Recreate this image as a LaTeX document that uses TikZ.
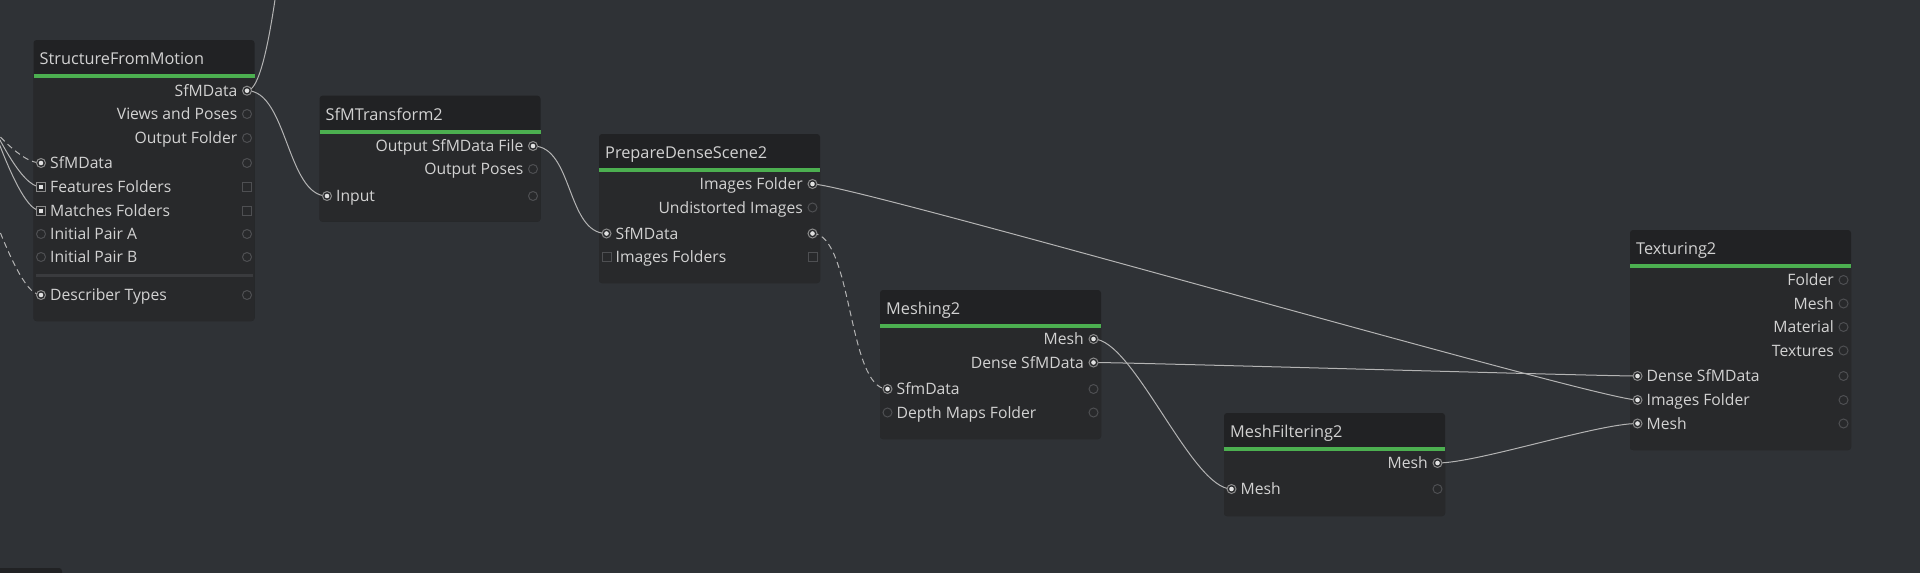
\documentclass[tikz,border=0pt]{standalone}
\usepackage{fontspec}
\setmainfont{Open Sans}
\definecolor{bgc}{HTML}{2F3236}
\definecolor{headc}{HTML}{212224}
\definecolor{bodyc}{HTML}{28292B}
\definecolor{greenc}{HTML}{4CAF50}
\definecolor{txtc}{HTML}{D2D2D2}
\definecolor{edgec}{HTML}{B4B4B4}
\definecolor{ringc}{HTML}{4E4F52}
\definecolor{ringon}{HTML}{8C8C8C}
\definecolor{dotc}{HTML}{E0E0E0}
\definecolor{sepc}{HTML}{3A3B3E}
\newcommand\lblfont{\fontsize{15.7}{18}\selectfont}
\newcommand\ttlfont{\fontsize{16.3}{19}\selectfont}
\tikzset{
  lbl/.style={text=txtc, font=\lblfont, inner sep=0pt},
  ttl/.style={text=txtc, font=\ttlfont, inner sep=0pt},
  edge/.style={draw=edgec, line width=1pt},
  dashededge/.style={edge, dash pattern=on 6pt off 4pt},
  pe/.style={circle, draw=ringc, line width=1pt, fill=bodyc, minimum size=9pt, inner sep=0pt},
  pf/.style={pe, draw=ringon, path picture={\fill[dotc] (path picture bounding box.center) circle (2.3pt);}},
  se/.style={rectangle, draw=ringc, line width=1pt, fill=bodyc, minimum size=9pt, inner sep=0pt},
  sf/.style={se, draw=ringon, path picture={\fill[dotc] ([shift={(-2.2pt,-2.2pt)}]path picture bounding box.center) rectangle ++(4.4pt,4.4pt);}},
}
\newcommand\mrnode[5]{% name, L, T, H, title
  \fill[headc, rounded corners=3pt] (#2,#3) rectangle ++(221,#4);
  \fill[bodyc] (#2,#3+36) [rounded corners=3pt] -- (#2,#3+#4) -- (#2+221,#3+#4) [sharp corners] -- (#2+221,#3+36) -- cycle;
  \fill[greenc] (#2,#3+34) rectangle ++(221,4);
  \node[ttl, anchor=base west] (#1) at (#2+6,#3+24.5) {#5};
}
\newcommand\outrow[4]{% coord, L, y, label
  \coordinate (#1) at (#2+213.5,#3);
  \node[lbl, anchor=base east] (#1-t) at (#2+204,#3+5.6) {#4};
}
\newcommand\inrow[4]{% coord, L, y, label
  \coordinate (#1) at (#2+7.5,#3);
  \coordinate (#1-r) at (#2+213.5,#3);
  \node[lbl, anchor=base west] (#1-t) at (#2+16.5,#3+5.6) {#4};
}
\begin{document}
\begin{tikzpicture}[x=1pt,y=-1pt]
\useasboundingbox (0,0) rectangle (1920,573);
\clip (0,0) rectangle (1920,573);
\fill[bgc] (0,0) rectangle (1920,573);
% partial node at bottom left
\fill[headc, rounded corners=3pt] (-60,568) rectangle (62,640);
% StructureFromMotion
\mrnode{sfm}{33.5}{40}{281}{StructureFromMotion}
\outrow{sfm-o1}{33.5}{90.7}{SfMData}
\outrow{sfm-o2}{33.5}{114}{Views and Poses}
\outrow{sfm-o3}{33.5}{138}{Output Folder}
\inrow{sfm-i1}{33.5}{163}{SfMData}
\inrow{sfm-i2}{33.5}{187}{Features Folders}
\inrow{sfm-i3}{33.5}{211}{Matches Folders}
\inrow{sfm-i4}{33.5}{234}{Initial Pair A}
\inrow{sfm-i5}{33.5}{257}{Initial Pair B}
\fill[sepc] (35.5,273.5) rectangle (252.5,276.5);
\inrow{sfm-i6}{33.5}{295}{Describer Types}
% SfMTransform2
\mrnode{st}{319.5}{95.7}{126}{SfMTransform2}
\outrow{st-o1}{319.5}{146}{Output SfMData File}
\outrow{st-o2}{319.5}{169}{Output Poses}
\inrow{st-i1}{319.5}{196}{Input}
% PrepareDenseScene2
\mrnode{pd}{599}{134}{149}{PrepareDenseScene2}
\outrow{pd-o1}{599}{184}{Images Folder}
\outrow{pd-o2}{599}{207.5}{Undistorted Images}
\inrow{pd-i1}{599}{233.5}{SfMData}
\inrow{pd-i2}{599}{257}{Images Folders}
% Meshing2
\mrnode{me}{880}{290}{149}{Meshing2}
\outrow{me-o1}{880}{339}{Mesh}
\outrow{me-o2}{880}{362.5}{Dense SfMData}
\inrow{me-i1}{880}{389}{SfmData}
\inrow{me-i2}{880}{412.5}{Depth Maps Folder}
% MeshFiltering2
\mrnode{mf}{1224}{413}{103}{MeshFiltering2}
\outrow{mf-o1}{1224}{463}{Mesh}
\inrow{mf-i1}{1224}{489}{Mesh}
% Texturing2
\mrnode{tx}{1630}{230}{220}{Texturing2}
\outrow{tx-o1}{1630}{280}{Folder}
\outrow{tx-o2}{1630}{303.5}{Mesh}
\outrow{tx-o3}{1630}{327}{Material}
\outrow{tx-o4}{1630}{350.5}{Textures}
\inrow{tx-i1}{1630}{376}{Dense SfMData}
\inrow{tx-i2}{1630}{400}{Images Folder}
\inrow{tx-i3}{1630}{423.5}{Mesh}
% off-screen ends
\coordinate (offTop) at (340,-400);
\coordinate (offA) at (-100,43);
\coordinate (offB) at (-100,-26);
\coordinate (offC) at (-100,-85);
\coordinate (offD) at (-100,8);
% edges
\draw[edge] (sfm-o1) .. controls +(40,0) and +(-40,0) .. (offTop);
\draw[edge] (sfm-o1) .. controls +(40,0) and +(-40,0) .. (st-i1);
\draw[edge] (st-o1) .. controls +(40,0) and +(-40,0) .. (pd-i1);
\draw[dashededge] (pd-i1-r) .. controls +(40,0) and +(-40,0) .. (me-i1);
\draw[edge] (pd-o1) .. controls +(40,0) and +(-40,0) .. (tx-i2);
\draw[edge] (me-o1) .. controls +(40,0) and +(-40,0) .. (mf-i1);
\draw[edge] (me-o2) .. controls +(40,0) and +(-40,0) .. (tx-i1);
\draw[edge] (mf-o1) .. controls +(40,0) and +(-40,0) .. (tx-i3);
\draw[dashededge] (offA) .. controls +(40,0) and +(-40,0) .. (sfm-i1);
\draw[edge] (offB) .. controls +(40,0) and +(-40,0) .. (sfm-i2);
\draw[edge] (offC) .. controls +(40,0) and +(-40,0) .. (sfm-i3);
\draw[dashededge] (offD) .. controls +(40,0) and +(-40,0) .. (sfm-i6);
% ports
\node[pf] (p1) at (sfm-o1) {};
\node[pe] (p2) at (sfm-o2) {};
\node[pe] (p3) at (sfm-o3) {};
\node[pf] (p4) at (sfm-i1) {};
\node[pe] (p5) at (sfm-i1-r) {};
\node[sf] (p6) at (sfm-i2) {};
\node[se] (p7) at (sfm-i2-r) {};
\node[sf] (p8) at (sfm-i3) {};
\node[se] (p9) at (sfm-i3-r) {};
\node[pe] (p10) at (sfm-i4) {};
\node[pe] (p11) at (sfm-i4-r) {};
\node[pe] (p12) at (sfm-i5) {};
\node[pe] (p13) at (sfm-i5-r) {};
\node[pf] (p14) at (sfm-i6) {};
\node[pe] (p15) at (sfm-i6-r) {};
\node[pf] (p16) at (st-o1) {};
\node[pe] (p17) at (st-o2) {};
\node[pf] (p18) at (st-i1) {};
\node[pe] (p19) at (st-i1-r) {};
\node[pf] (p20) at (pd-o1) {};
\node[pe] (p21) at (pd-o2) {};
\node[pf] (p22) at (pd-i1) {};
\node[pf] (p23) at (pd-i1-r) {};
\node[se] (p24) at (pd-i2) {};
\node[se] (p25) at (pd-i2-r) {};
\node[pf] (p26) at (me-o1) {};
\node[pf] (p27) at (me-o2) {};
\node[pf] (p28) at (me-i1) {};
\node[pe] (p29) at (me-i1-r) {};
\node[pe] (p30) at (me-i2) {};
\node[pe] (p31) at (me-i2-r) {};
\node[pf] (p32) at (mf-o1) {};
\node[pf] (p33) at (mf-i1) {};
\node[pe] (p34) at (mf-i1-r) {};
\node[pe] (p35) at (tx-o1) {};
\node[pe] (p36) at (tx-o2) {};
\node[pe] (p37) at (tx-o3) {};
\node[pe] (p38) at (tx-o4) {};
\node[pf] (p39) at (tx-i1) {};
\node[pe] (p40) at (tx-i1-r) {};
\node[pf] (p41) at (tx-i2) {};
\node[pe] (p42) at (tx-i2-r) {};
\node[pf] (p43) at (tx-i3) {};
\node[pe] (p44) at (tx-i3-r) {};
\end{tikzpicture}
\end{document}
